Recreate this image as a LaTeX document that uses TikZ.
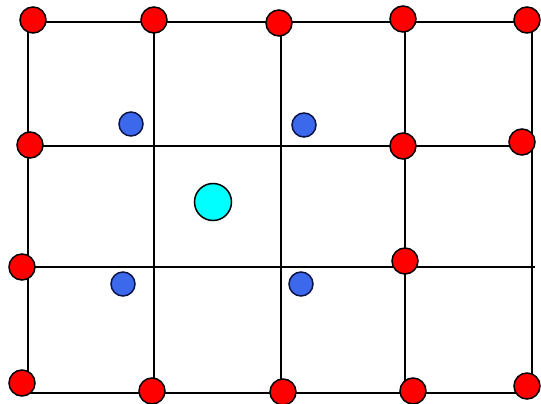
\documentclass[tikz,border=0pt]{standalone}
\begin{document}
\begin{tikzpicture}[x=1pt,y=-1pt,
  gridline/.style={line width=2.6pt,black,line cap=rect},
  reddot/.style={circle,draw=black,line width=1.5pt,fill=red,minimum size=26pt,inner sep=0pt},
  bluedot/.style={circle,draw={rgb,255:red,10;green,20;blue,70},line width=1.5pt,fill={rgb,255:red,60;green,105;blue,235},minimum size=24pt,inner sep=0pt},
  cyandot/.style={circle,draw=black,line width=1.5pt,fill={rgb,255:red,0;green,255;blue,255},minimum size=37pt,inner sep=0pt}]
\useasboundingbox (0,0) rectangle (541,404);
\fill[white] (0,0) rectangle (541,404);
% grid lines
\foreach \gx in {28,154,281,405,532} \draw[gridline] (\gx,22) -- (\gx,393);
\draw[gridline] (28,22) -- (532,22);
\draw[gridline] (28,146) -- (532,146);
\draw[gridline] (28,267) -- (534,267);
\draw[gridline] (28,393) -- (532,393);
% red dots
\node[reddot] (r11) at (33,20) {};
\node[reddot] (r12) at (154,20) {};
\node[reddot] (r13) at (279,23) {};
\node[reddot] (r14) at (403,19) {};
\node[reddot] (r15) at (527,20) {};
\node[reddot] (r21) at (30,145) {};
\node[reddot] (r24) at (403,146) {};
\node[reddot] (r25) at (522,142) {};
\node[reddot] (r31) at (22,267) {};
\node[reddot] (r34) at (405,261) {};
\node[reddot] (r41) at (22,383) {};
\node[reddot] (r42) at (152,391) {};
\node[reddot] (r43) at (283,392) {};
\node[reddot] (r44) at (413,391) {};
\node[reddot] (r45) at (527,386) {};
% blue dots
\node[bluedot] (b1) at (131,124) {};
\node[bluedot] (b2) at (304,125) {};
\node[bluedot] (b3) at (123,284) {};
\node[bluedot] (b4) at (301,284) {};
% cyan dot
\node[cyandot] (c) at (213,202) {};
\end{tikzpicture}
\end{document}
